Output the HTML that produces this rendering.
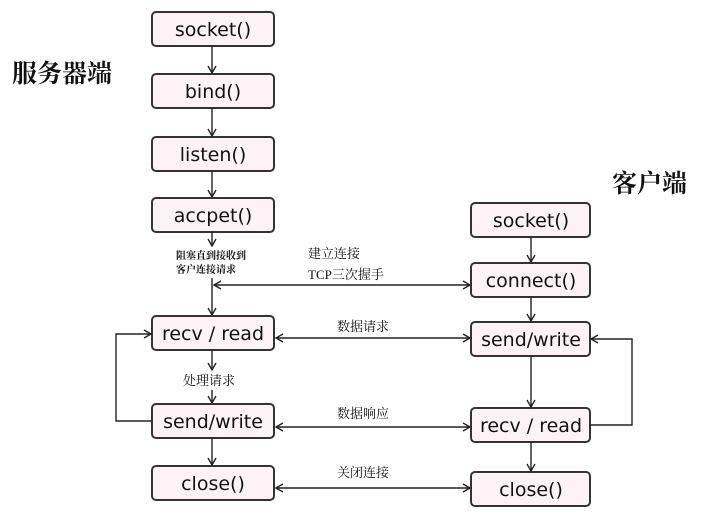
<!DOCTYPE html>
<html><head><meta charset="utf-8"><style>body{margin:0;background:#fff}svg{display:block}</style></head><body>
<svg width="717" height="531" viewBox="0 0 717 531" xmlns="http://www.w3.org/2000/svg">
<defs><marker id="a" markerWidth="10" markerHeight="10" refX="8" refY="5" orient="auto-start-reverse" markerUnits="userSpaceOnUse"><path d="M1,1 L8,5 L1,9" fill="none" stroke="#222" stroke-width="1.4"/></marker></defs>
<g fill="#fdf2f5" stroke="#333" stroke-width="2">
<rect x="152" y="12" width="122" height="34" rx="4"/>
<rect x="152" y="74" width="122" height="34" rx="4"/>
<rect x="152" y="137" width="122" height="34" rx="4"/>
<rect x="152" y="198" width="122" height="34" rx="4"/>
<rect x="152" y="316" width="122" height="34" rx="4"/>
<rect x="152" y="404" width="122" height="34" rx="4"/>
<rect x="152" y="466" width="122" height="34" rx="4"/>
<rect x="471" y="203" width="119" height="34" rx="4"/>
<rect x="471" y="263" width="119" height="34" rx="4"/>
<rect x="471" y="322" width="119" height="34" rx="4"/>
<rect x="471" y="408" width="119" height="34" rx="4"/>
<rect x="471" y="472" width="119" height="34" rx="4"/>
</g>
<g stroke="#222" stroke-width="1.4" fill="none" marker-end="url(#a)">
<path d="M212,46 V73"/><path d="M212,108 V136"/><path d="M212,171 V197"/><path d="M212,232 V246"/>
<path d="M212,278 V315"/><path d="M212,350 V370"/><path d="M212,390 V403"/><path d="M212,438 V465"/>
<path d="M531,237 V262"/><path d="M531,297 V321"/><path d="M531,356 V407"/><path d="M531,442 V471"/>
<path d="M152,421 H116 V334 H151"/><path d="M590,425 H632 V339 H591"/>
<path d="M214,285 H470" marker-start="url(#a)"/>
<path d="M276,338 H470" marker-start="url(#a)"/>
<path d="M276,427 H470" marker-start="url(#a)"/>
<path d="M276,488 H470" marker-start="url(#a)"/>
</g>
<g font-family="DejaVu Sans, sans-serif" font-size="19" text-anchor="middle" fill="#111">
<text x="213" y="36">socket()</text><text x="213" y="98">bind()</text><text x="213" y="161">listen()</text>
<text x="213" y="222">accpet()</text><text x="213" y="340">recv / read</text><text x="213" y="428">send/write</text>
<text x="213" y="490">close()</text>
<text x="531" y="227">socket()</text><text x="531" y="287">connect()</text><text x="531" y="346">send/write</text>
<text x="531" y="432">recv / read</text><text x="531" y="496">close()</text>
</g>
<g font-family="Liberation Serif, Noto Serif CJK SC, serif" fill="#111">
<text x="12" y="82" font-size="25" font-weight="bold">服务器端</text>
<text x="612" y="192" font-size="25" font-weight="bold">客户端</text>
<text x="176" y="259" font-size="10" font-weight="bold">阻塞直到接收到</text>
<text x="176" y="273" font-size="10" font-weight="bold">客户连接请求</text>
<text x="308" y="258" font-size="13">建立连接</text>
<text x="308" y="279" font-size="13">TCP三次握手</text>
<text x="337" y="331" font-size="13">数据请求</text>
<text x="183" y="385" font-size="13">处理请求</text>
<text x="337" y="418" font-size="13">数据响应</text>
<text x="337" y="477" font-size="13">关闭连接</text>
</g>
</svg>
</body></html>
